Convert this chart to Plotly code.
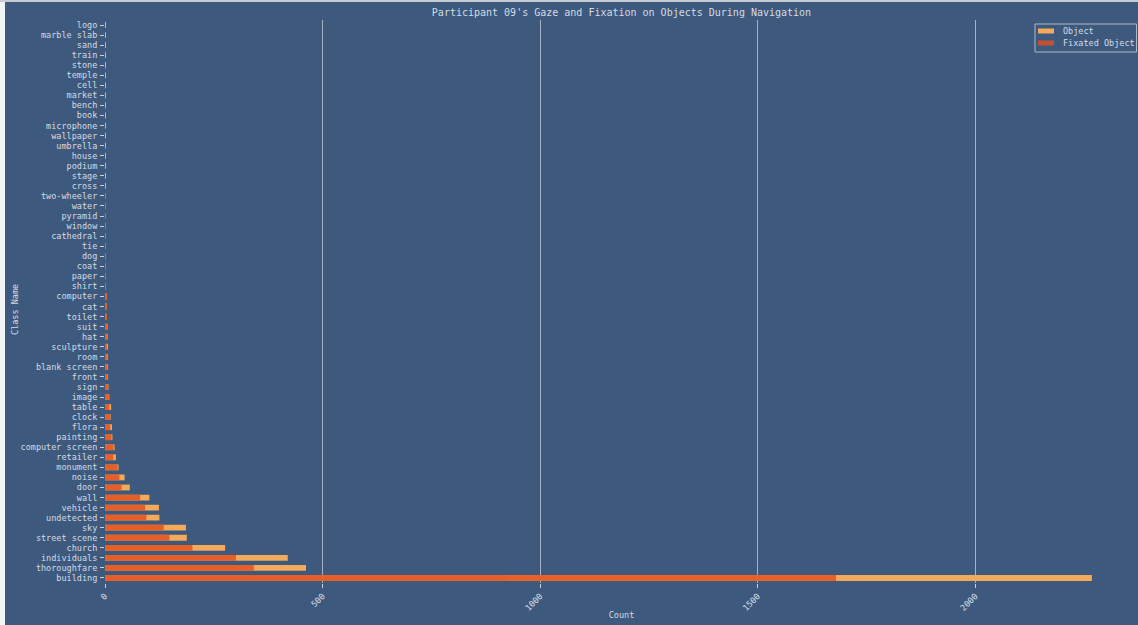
import plotly.graph_objects as go

# Object classes, ordered from the most to the least looked-at
class_names = [
    "building", "thoroughfare", "individuals", "church", "street scene", "sky",
    "undetected", "vehicle", "wall", "door", "noise", "monument", "retailer",
    "computer screen", "painting", "flora", "clock", "table", "image", "sign",
    "front", "blank screen", "room", "sculpture", "hat", "suit", "toilet", "cat",
    "computer", "shirt", "paper", "coat", "dog", "tie", "cathedral", "window",
    "pyramid", "water", "two-wheeler", "cross", "stage", "podium", "house",
    "umbrella", "wallpaper", "microphone", "book", "bench", "market", "cell",
    "temple", "stone", "train", "sand", "marble slab", "logo",
]

# Number of frames in which each object was in view
object_counts = [
    2268, 462, 420, 276, 188, 186,
    125, 124, 102, 57, 45, 31, 25,
    22, 17, 16, 13, 14, 10, 8,
    7, 7, 7, 7, 6, 6, 4, 4,
    4, 2, 2, 2, 2, 2, 2, 2,
    2, 2, 2, 1, 1, 1, 1,
    1, 1, 1, 1, 1, 1, 1,
    1, 1, 1, 1, 1, 1,
]

# Number of frames in which the object was fixated
fixated_counts = [
    1680, 342, 301, 201, 148, 135,
    95, 92, 81, 38, 33, 29, 19,
    20, 15, 12, 12, 10, 9, 7,
    6, 6, 6, 5, 5, 5, 3, 3,
    3, 1, 1, 1, 1, 1, 2, 1,
    1, 1, 1, 0, 0, 0, 0,
    0, 0, 0, 0, 0, 0, 0,
    0, 0, 0, 0, 0, 0,
]

x_ticks = [0, 500, 1000, 1500, 2000]

BG = "#3d5a7e"
TEXT = "#d6dbe3"
FONT = "DejaVu Sans Mono"
OBJECT_COLOR = "#f5a95b"
FIXATED_COLOR = "#e5501e"
FIXATED_OPACITY = 0.82
LEGEND_FIXATED = "#c4512e"   # fixated colour as it shows over the background

fig = go.Figure()
fig.add_trace(go.Bar(
    x=object_counts, y=class_names, orientation="h", name="Object",
    marker=dict(color=OBJECT_COLOR, line=dict(width=0)), width=0.58,
    showlegend=False,
))
fig.add_trace(go.Bar(
    x=fixated_counts, y=class_names, orientation="h", name="Fixated Object",
    marker=dict(color=FIXATED_COLOR, line=dict(width=0)),
    opacity=FIXATED_OPACITY, width=0.58, showlegend=False,
))

# Pixel helpers for frame and legend placement
W, H = 1138, 625
L, R, T, B = 105, 0, 20, 42
pw, ph = W - L - R, H - T - B
def px_x(px):
    return (px - L) / pw
def px_y(py):
    return (H - B - py) / ph

shapes = [
    # light strip on the left and a thin line along the top
    dict(type="rect", xref="paper", yref="paper",
         x0=px_x(0), x1=px_x(5), y0=px_y(H), y1=px_y(0),
         fillcolor="#f2f4f6", line=dict(width=0), layer="above"),
    dict(type="rect", xref="paper", yref="paper",
         x0=px_x(0), x1=px_x(W), y0=px_y(2), y1=px_y(0),
         fillcolor="#c8cdd4", line=dict(width=0), layer="above"),
    # legend box
    dict(type="rect", xref="paper", yref="paper",
         x0=px_x(1035), x1=px_x(1136.5), y0=px_y(52), y1=px_y(24),
         fillcolor=BG, line=dict(color="#aeb8c6", width=1), layer="above"),
]
annotations = [
    dict(text="Class Name", xref="paper", yref="paper",
         x=px_x(15), y=px_y(310), xanchor="center", yanchor="middle",
         textangle=-90, showarrow=False,
         font=dict(family=FONT, size=8.5, color=TEXT)),
]
legend_items = [("Object", OBJECT_COLOR, 31), ("Fixated Object", LEGEND_FIXATED, 43)]
for label, color, cy in legend_items:
    shapes.append(dict(type="rect", xref="paper", yref="paper",
                       x0=px_x(1038), x1=px_x(1054), y0=px_y(cy + 2.5), y1=px_y(cy - 2.5),
                       fillcolor=color, line=dict(width=0), layer="above"))
    annotations.append(dict(text=label, xref="paper", yref="paper",
                            x=px_x(1061), y=px_y(cy), xanchor="left", yanchor="middle",
                            showarrow=False, font=dict(family=FONT, size=8.5, color=TEXT)))

fig.update_layout(
    width=W, height=H,
    margin=dict(l=L, r=R, t=T, b=B, pad=0),
    barmode="overlay",
    paper_bgcolor=BG, plot_bgcolor=BG,
    font=dict(family=FONT, color=TEXT, size=9),
    showlegend=False,
    title=dict(
        text="Participant 09's Gaze and Fixation on Objects During Navigation",
        x=0.5, xref="paper", xanchor="center", y=1 - 12 / H, yanchor="middle",
        font=dict(family=FONT, size=10, color=TEXT),
    ),
    xaxis=dict(
        range=[0, 2374], tickmode="array", tickvals=x_ticks,
        ticktext=[str(v) for v in x_ticks],
        tickangle=-45, showgrid=True, gridcolor="#a7b1c0", gridwidth=1,
        zeroline=False, showline=False, ticks="outside", ticklen=4,
        tickcolor="#c9d0da", tickfont=dict(size=8.5, color=TEXT),
        title=dict(text="Count", font=dict(size=8.5, color=TEXT), standoff=0),
    ),
    yaxis=dict(
        categoryorder="array", categoryarray=class_names,
        tickmode="array", tickvals=class_names, ticktext=class_names,
        range=[-0.5, len(class_names) - 0.5],
        showgrid=False, zeroline=False, showline=False,
        ticks="outside", ticklen=4, tickcolor="#c9d0da",
        ticklabelstandoff=1,
        tickfont=dict(size=8.5, color=TEXT),
    ),
    shapes=shapes,
    annotations=annotations,
)

fig.write_html("out.html")
